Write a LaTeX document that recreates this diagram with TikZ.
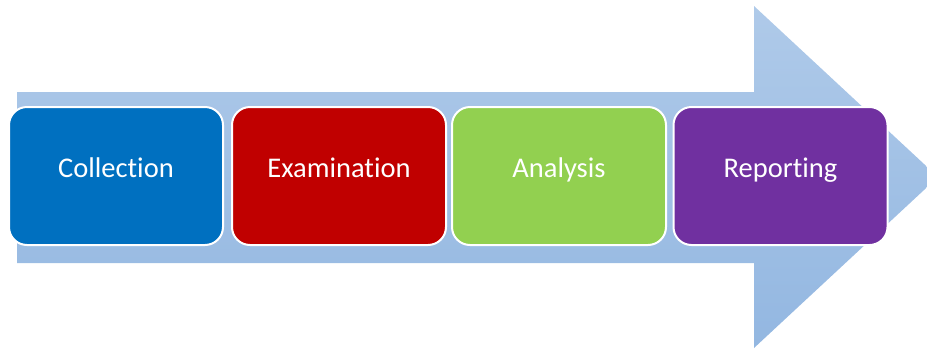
\documentclass[tikz,border=0pt]{standalone}
\usepackage{fontspec}
\setmainfont{Carlito}[Ligatures={NoCommon}]
\usepackage{tikz}
\usepackage{xcolor}
\definecolor{arrowtop}{HTML}{AFCAE9}
\definecolor{arrowbot}{HTML}{93B7E1}
\definecolor{collblue}{HTML}{0070C0}
\definecolor{examred}{HTML}{C00000}
\definecolor{anagreen}{HTML}{92D050}
\definecolor{reppurple}{HTML}{7030A0}
\tikzset{
  stage/.style={draw=white, line width=2pt, rounded corners=18pt,
    minimum width=214pt, minimum height=138pt,
    text=white, text height=18pt, text depth=16pt,
    font=\fontsize{28.5}{31}\selectfont}
}

\begin{document}
\begin{tikzpicture}[x=1pt,y=-1pt]
  \useasboundingbox (0,0) rectangle (927,349);
  \clip (0,0) rectangle (927,349);
  % big arrow behind the stages
  \shade[top color=arrowtop, bottom color=arrowbot]
    (17,92) -- (754,92) -- (754,6) -- (938,177) -- (754,348)
    -- (754,263) -- (17,263) -- cycle;

  \node[stage, fill=collblue] (collection) at (116,176) {Collection};
  \node[stage, fill=examred] (examination) at (339,176) {Examination};
  \node[stage, fill=anagreen] (analysis) at (559,176) {Analysis};
  \node[stage, fill=reppurple] (reporting) at (780.5,176) {Reporting};
\end{tikzpicture}
\end{document}
